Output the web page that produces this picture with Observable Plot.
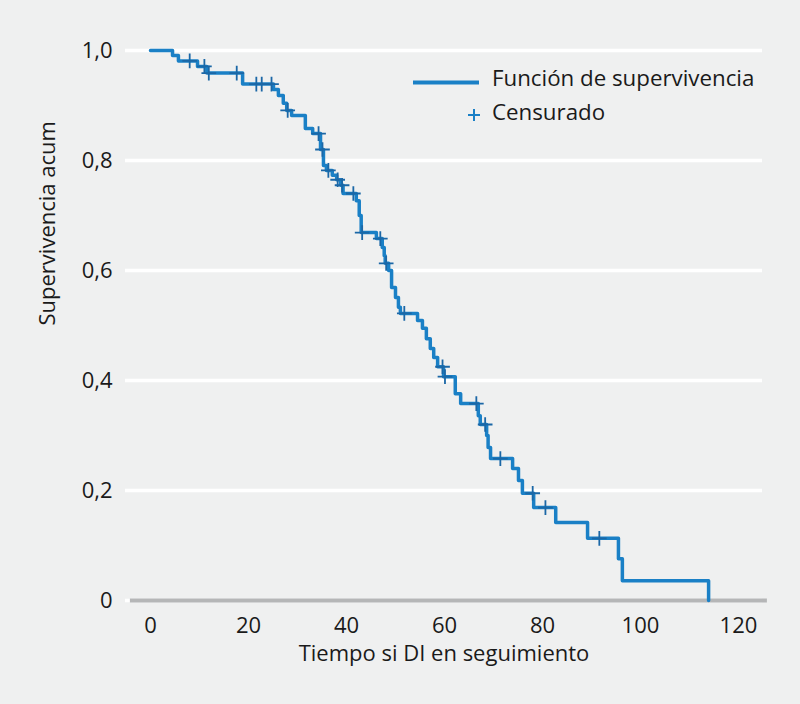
<!DOCTYPE html>
<html>
<head>
<meta charset="utf-8">
<script src="https://cdn.jsdelivr.net/npm/d3@7"></script>
<script src="https://cdn.jsdelivr.net/npm/@observablehq/plot@0.6"></script>
<style>
  html, body { margin: 0; padding: 0; background: #eff0f0; }
  #wrap { position: relative; width: 800px; height: 704px; font-family: "Open Sans", sans-serif; color: #1a1a1a; }
  #legend { position: absolute; left: 0; top: 0; pointer-events: none; }
  .lg { position: absolute; font-size: 22.3px; line-height: 1; white-space: nowrap; }
</style>
</head>
<body>
<div id="wrap">
  <div id="chart"></div>
  <div id="legend"></div>
</div>
<script>
// Kaplan–Meier step curve: times where survival drops, and survival after the drop
const stepTime = [0, 4.5, 5.7, 9.6, 11.5, 18.8, 25.1, 26.1, 27.1, 27.8, 28.8, 31.6, 33.1, 34.7, 35.3, 35.9, 37.1, 38.0, 38.8, 39.3, 42.0, 42.6, 43.0, 46.1, 47.3, 47.7, 47.9, 48.6, 49.2, 50.0, 50.6, 51.0, 54.5, 55.5, 56.3, 57.1, 57.8, 58.6, 59.8, 62.2, 63.3, 66.9, 67.3, 68.6, 68.9, 69.4, 73.9, 75.1, 75.9, 78.2, 82.7, 89.2, 95.5, 96.3, 113.9];
const stepSurv = [1.0, 0.991, 0.981, 0.971, 0.959, 0.939, 0.929, 0.918, 0.904, 0.891, 0.882, 0.858, 0.849, 0.82, 0.791, 0.782, 0.773, 0.765, 0.755, 0.74, 0.727, 0.70, 0.669, 0.658, 0.642, 0.627, 0.613, 0.6, 0.569, 0.551, 0.533, 0.522, 0.509, 0.495, 0.476, 0.458, 0.442, 0.425, 0.407, 0.376, 0.358, 0.336, 0.32, 0.30, 0.278, 0.258, 0.24, 0.218, 0.195, 0.169, 0.142, 0.113, 0.076, 0.036, 0];

// Censored observations
const censorTime = [8.0, 11.0, 11.9, 17.6, 21.6, 22.7, 24.7, 28.0, 34.3, 35.1, 36.3, 38.2, 39.1, 41.4, 43.2, 46.9, 48.1, 51.8, 59.6, 60.1, 66.5, 68.3, 71.4, 78.0, 80.6, 91.6];
const censorSurv = [0.981, 0.971, 0.959, 0.959, 0.939, 0.939, 0.939, 0.891, 0.849, 0.82, 0.782, 0.765, 0.755, 0.74, 0.669, 0.658, 0.613, 0.522, 0.425, 0.407, 0.358, 0.32, 0.258, 0.195, 0.169, 0.113];

const xTicks = [0, 20, 40, 60, 80, 100, 120];
const yTicks = [0, 0.2, 0.4, 0.6, 0.8, 1.0];
const gridTicks = [0.2, 0.4, 0.6, 0.8, 1.0];
const xTitle = "Tiempo si DI en seguimiento";
const yTitle = "Supervivencia acum";
const legendLabels = ["Función de supervivencia", "Censurado"];

const lineColor = "#1a80c6";
const censorColor = "#1b67a6";

const steps = stepTime.map((t, i) => ({t, s: stepSurv[i]}));
const censors = censorTime.map((t, i) => ({t, s: censorSurv[i]}));

const fmtY = d => d === 0 ? "0" : d.toFixed(1).replace(".", ",");

const chart = Plot.plot({
  width: 800,
  height: 704,
  marginLeft: 125,
  marginRight: 38,
  marginTop: 50,
  marginBottom: 104,
  style: {background: "#eff0f0", color: "#1a1a1a", fontFamily: "Open Sans, sans-serif", overflow: "visible"},
  x: {domain: [-5.1, 124.9]},
  y: {domain: [0, 1]},
  marks: [
    Plot.ruleY(gridTicks, {stroke: "#ffffff", strokeWidth: 3.5}),
    Plot.ruleY([0], {stroke: "#ffffff", strokeWidth: 3.5}),
    Plot.ruleY([0], {x1: -4.1, x2: 125.9, stroke: "#b5b6b7", strokeWidth: 4}),
    Plot.axisX({ticks: xTicks, tickSize: 0, tickPadding: 17, fontSize: 22, label: null, tickFormat: d => String(d)}),
    Plot.axisY({ticks: yTicks, tickSize: 0, tickPadding: 13, fontSize: 22, label: null, tickFormat: fmtY}),
    Plot.text([xTitle], {frameAnchor: "bottom", dy: 60, fontSize: 22, fill: "#1a1a1a"}),
    Plot.text([yTitle], {frameAnchor: "left", dx: -78, rotate: -90, fontSize: 22, fill: "#1a1a1a"}),
    Plot.line(steps, {x: "t", y: "s", curve: "step-after", stroke: lineColor, strokeWidth: 3.5}),
    Plot.dot(censors, {x: "t", y: "s", symbol: "plus", r: 4.8, stroke: censorColor, strokeWidth: 1.8})
  ]
});
document.getElementById("chart").appendChild(chart);

// Legend (inside the plot area, top right)
const lg = document.getElementById("legend");
lg.innerHTML = `
  <svg width="800" height="704" style="position:absolute;left:0;top:0">
    <line x1="413" x2="479" y1="82.5" y2="82.5" stroke="${lineColor}" stroke-width="4"/>
    <line x1="468" x2="480" y1="115" y2="115" stroke="${lineColor}" stroke-width="2"/>
    <line x1="474" x2="474" y1="109" y2="121" stroke="${lineColor}" stroke-width="2"/>
  </svg>
  <div class="lg" style="left:492px; top:67px">${legendLabels[0]}</div>
  <div class="lg" style="left:492px; top:101px">${legendLabels[1]}</div>
`;
</script>
</body>
</html>
